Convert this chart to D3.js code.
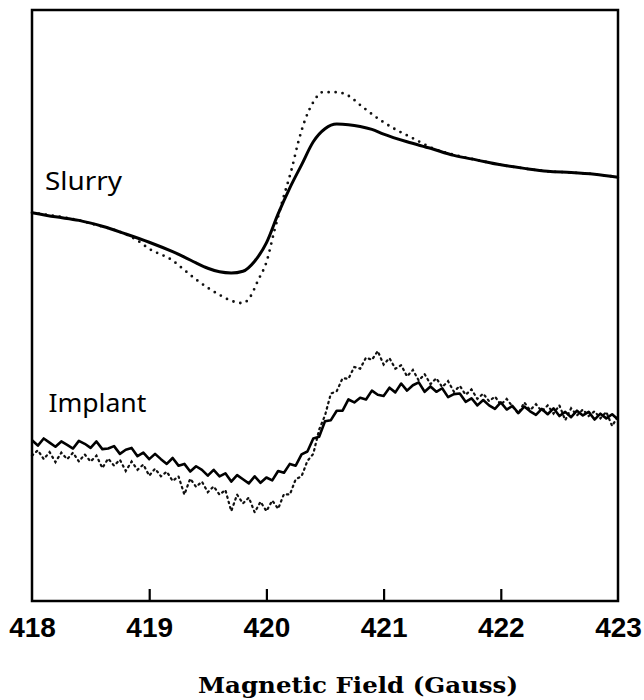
<!DOCTYPE html>
<html>
<head>
<meta charset="utf-8">
<script src="https://cdn.jsdelivr.net/npm/d3@7"></script>
<style>
  body { margin: 0; background: #fff; }
  svg { display: block; }
</style>
</head>
<body>
<div id="chart"></div>
<script>
const width = 644
const height = 700
const margin = { top: 10, right: 26, bottom: 99, left: 32 }
const innerWidth = width - margin.left - margin.right
const innerHeight = height - margin.top - margin.bottom

// tick labels of the field axis (Gauss)
const fieldTicks = [418, 419, 420, 421, 422, 423]

// slurry spectrum, solid trace
const slurryField = [418.0, 418.2, 418.4, 418.6, 418.8, 419.0, 419.2, 419.3, 419.4, 419.5, 419.6, 419.7, 419.8, 419.9, 420.0, 420.1, 420.2, 420.3, 420.4, 420.5, 420.6, 420.7, 420.8, 420.9, 421.0, 421.2, 421.4, 421.6, 421.8, 422.0, 422.2, 422.4, 422.6, 422.8, 423.0]
const slurrySolid = [65.7, 65.0, 64.4, 63.4, 62.1, 60.7, 59.1, 58.2, 57.2, 56.3, 55.7, 55.5, 55.8, 57.5, 60.6, 65.5, 69.9, 73.8, 77.7, 79.9, 80.7, 80.6, 80.3, 79.8, 79.0, 77.7, 76.6, 75.4, 74.6, 73.8, 73.2, 72.7, 72.5, 72.2, 71.7]

// slurry spectrum, dotted trace
const slurryDotField = [418.0, 418.5, 418.9, 419.0, 419.2, 419.3, 419.4, 419.5, 419.6, 419.7, 419.8, 419.86, 419.93, 420.0, 420.07, 420.14, 420.22, 420.27, 420.33, 420.4, 420.48, 420.6, 420.69, 420.82, 420.97, 421.11, 421.25, 421.42, 421.6, 421.8, 422.0, 422.2, 422.4, 422.6, 422.8, 423.0]
const slurryDotted = [65.7, 63.9, 61.0, 59.6, 57.6, 56.0, 54.4, 53.0, 51.8, 50.8, 50.4, 51.4, 54.3, 57.3, 62.8, 67.9, 73.4, 77.5, 81.4, 84.4, 86.1, 86.1, 85.6, 83.6, 81.4, 79.7, 78.3, 76.6, 75.5, 74.6, 73.8, 73.2, 72.7, 72.5, 72.2, 71.7]

// implant spectra, sampled every 0.05 G from 418 G
const implantStart = 418
const implantStep = 0.05
const implantSolid = [
  27.2, 26.3, 27.5, 26.8, 26.1, 27.0, 26.4, 25.8, 27.1, 26.6,
  25.9, 27.0, 25.7, 25.8, 26.2, 24.9, 25.6, 25.9, 24.5, 25.1,
  24.0, 24.9, 24.0, 23.2, 24.2, 22.9, 23.2, 21.9, 22.8, 22.2,
  21.2, 22.2, 21.1, 21.6, 20.2, 21.3, 20.6, 19.9, 21.1, 20.0,
  20.9, 20.4, 22.0, 21.7, 23.2, 22.9, 24.8, 25.3, 27.5, 27.8,
  30.4, 30.6, 32.2, 32.2, 34.1, 33.6, 34.4, 34.1, 35.6, 34.9,
  34.7, 36.1, 35.3, 36.8, 35.6, 36.5, 37.0, 35.4, 36.3, 35.4,
  36.0, 34.5, 35.0, 35.1, 33.7, 34.3, 33.1, 34.0, 33.1, 32.5,
  33.6, 32.4, 33.0, 31.8, 32.9, 32.1, 31.5, 32.5, 31.6, 32.6,
  31.3, 32.0, 31.1, 32.2, 31.4, 32.0, 30.7, 31.7, 30.9, 31.6,
  30.7
]
const implantDotted = [
  24.6, 25.5, 24.0, 25.2, 23.5, 25.1, 24.0, 25.1, 23.6, 24.8,
  23.6, 24.6, 22.5, 24.1, 22.9, 23.9, 22.0, 23.6, 22.2, 23.1,
  21.2, 22.4, 21.1, 21.9, 20.3, 21.1, 18.0, 20.7, 19.3, 20.2,
  18.4, 19.4, 18.0, 18.8, 15.2, 18.0, 16.5, 17.5, 15.0, 16.8,
  15.2, 17.0, 15.6, 18.1, 18.0, 20.6, 21.1, 23.7, 24.9, 29.0,
  31.4, 35.1, 35.5, 37.7, 37.6, 39.6, 39.3, 41.2, 40.8, 42.3,
  40.0, 41.1, 39.3, 39.9, 38.0, 39.1, 37.3, 38.4, 36.7, 37.7,
  36.2, 37.2, 35.4, 36.4, 34.9, 35.8, 34.2, 35.1, 33.8, 34.6,
  33.2, 34.2, 32.9, 31.7, 33.6, 32.3, 33.3, 32.1, 33.1, 31.7,
  33.1, 30.6, 32.6, 31.4, 32.4, 31.3, 32.1, 30.9, 32.0, 29.6,
  31.3
]

const labels = [
  { name: 'Slurry', field: 418.11, level: 69.6, len: 77 },
  { name: 'Implant', field: 418.14, level: 32.0, len: 98 }
]

const svg = d3.select('#chart')
  .append('svg')
  .attr('width', width)
  .attr('height', height)

svg.append('rect')
  .attr('width', width)
  .attr('height', height)
  .attr('fill', '#fff')

const xScale = d3.scaleLinear().domain([418, 423]).range([0, innerWidth])
const yScale = d3.scaleLinear().domain([0, 100]).range([innerHeight, 0])

const g = svg.append('g')
  .attr('transform', `translate(${margin.left}, ${margin.top})`)

const pairs = (xs, ys) => ys.map((v, i) => [xs[i], v])
const sampled = ys => ys.map((v, i) => [implantStart + i * implantStep, v])

const smooth = d3.line()
  .x(d => xScale(d[0]))
  .y(d => yScale(d[1]))
  .curve(d3.curveMonotoneX)
const rough = d3.line()
  .x(d => xScale(d[0]))
  .y(d => yScale(d[1]))

// dotted traces first, solid on top
g.append('path')
  .datum(pairs(slurryDotField, slurryDotted))
  .attr('d', smooth)
  .attr('fill', 'none')
  .attr('stroke', '#111')
  .attr('stroke-width', 2.8)
  .attr('stroke-linecap', 'round')
  .attr('stroke-dasharray', '0 7')

g.append('path')
  .datum(sampled(implantDotted))
  .attr('d', rough)
  .attr('fill', 'none')
  .attr('stroke', '#111')
  .attr('stroke-width', 2.2)
  .attr('stroke-linecap', 'round')
  .attr('stroke-dasharray', '1.5 4')

g.append('path')
  .datum(pairs(slurryField, slurrySolid))
  .attr('d', smooth)
  .attr('fill', 'none')
  .attr('stroke', '#000')
  .attr('stroke-width', 3)

g.append('path')
  .datum(sampled(implantSolid))
  .attr('d', rough)
  .attr('fill', 'none')
  .attr('stroke', '#000')
  .attr('stroke-width', 2.6)
  .attr('stroke-linejoin', 'round')

// frame
g.append('rect')
  .attr('width', innerWidth)
  .attr('height', innerHeight)
  .attr('fill', 'none')
  .attr('stroke', '#000')
  .attr('stroke-width', 2.5)

// x axis: inward ticks, labels below
const xAxis = d3.axisBottom(xScale)
  .tickValues(fieldTicks)
  .tickSizeInner(-12)
  .tickSizeOuter(0)
  .tickPadding(16)
  .tickFormat(d3.format('d'))

const ax = g.append('g')
  .attr('transform', `translate(0, ${innerHeight})`)
  .call(xAxis)
ax.select('.domain').remove()
ax.selectAll('.tick line')
  .attr('stroke', '#000')
  .attr('stroke-width', 2.2)
  .filter(d => d === 418 || d === 423).remove()
ax.selectAll('.tick text')
  .attr('fill', '#000')
  .attr('dy', '0.71em')
  .attr('font-family', '"Liberation Sans", Arial, sans-serif')
  .attr('font-weight', 'bold')
  .attr('font-size', 28)

// trace labels
g.selectAll('.trace-label')
  .data(labels)
  .join('text')
  .attr('class', 'trace-label')
  .attr('x', d => xScale(d.field))
  .attr('y', d => yScale(d.level))
  .attr('font-family', '"Noto Sans", sans-serif')
  .attr('font-size', 25)
  .attr('textLength', d => d.len)
  .attr('lengthAdjust', 'spacingAndGlyphs')
  .attr('fill', '#000')
  .text(d => d.name)

// axis title
svg.append('text')
  .attr('x', 358)
  .attr('y', 693)
  .attr('text-anchor', 'middle')
  .attr('font-family', '"DejaVu Serif", serif')
  .attr('font-weight', 'bold')
  .attr('font-size', 23)
  .attr('textLength', 320)
  .attr('lengthAdjust', 'spacingAndGlyphs')
  .text('Magnetic Field (Gauss)')
</script>
</body>
</html>
